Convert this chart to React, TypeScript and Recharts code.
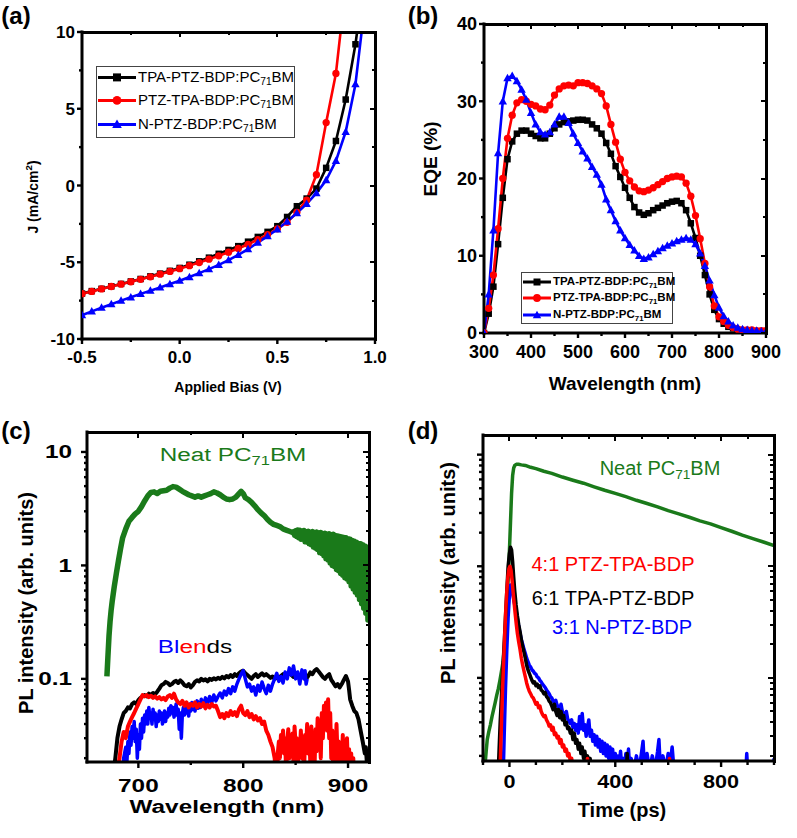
import React from "react";
import { Line, LineChart, XAxis, YAxis } from "recharts";

const FONT = "'Liberation Sans', Arial, Helvetica, sans-serif";
const GREEN = "#1a7a1a";
const RED = "#ff0000";
const BLUE = "#0000ff";
const BLACK = "#000000";

// ---------- (a) J-V curves ----------
const biasV = [
  -0.5, -0.45, -0.4, -0.35, -0.3, -0.25, -0.2, -0.15, -0.1, -0.05, 0, 0.05, 0.1, 0.15, 0.2,
  0.25, 0.3, 0.35, 0.4, 0.45, 0.5, 0.55, 0.6, 0.65, 0.7, 0.75, 0.8, 0.85, 0.9, 0.95,
];
const jTpaPtzBdp = [
  -7.04, -6.88, -6.73, -6.57, -6.41, -6.25, -6.09, -5.92, -5.74, -5.56, -5.37, -5.16, -4.94,
  -4.7, -4.45, -4.2, -3.95, -3.66, -3.35, -3.02, -2.65, -2.05, -1.35, -0.85, -0.2, 1.15, 2.9,
  5.6, 9.2, 14.0,
];
const jPtzTpaBdp = [
  -7.05, -6.9, -6.74, -6.58, -6.43, -6.27, -6.11, -5.95, -5.78, -5.6, -5.42, -5.22, -5.02,
  -4.8, -4.58, -4.35, -4.1, -3.83, -3.53, -3.2, -2.82, -2.4, -1.75, -0.95, 0.7, 4.1, 7.3, 13.0,
];
const jNPtzBdp = [
  -8.45, -8.2, -7.96, -7.73, -7.5, -7.28, -7.06, -6.85, -6.64, -6.42, -6.2, -5.96, -5.71,
  -5.45, -5.17, -4.86, -4.52, -4.14, -3.72, -3.3, -2.85, -2.35, -1.8, -1.2, -0.5, 0.35, 1.6,
  3.5, 6.6, 12.0,
];

// ---------- (b) EQE ----------
const wavelengthsNm = [
  300, 310, 320, 330, 340, 350, 360, 370, 380, 390, 400, 410, 420, 430, 440, 450, 460, 470,
  480, 490, 500, 510, 520, 530, 540, 550, 560, 570, 580, 590, 600, 610, 620, 630, 640, 650,
  660, 670, 680, 690, 700, 710, 720, 730, 740, 750, 760, 770, 780, 790, 800, 810, 820, 830,
  840, 850, 860, 870, 880, 890, 900,
];
const eqeTpaPtzBdp = [
  0, 2.5, 6.0, 11.5, 17.5, 22.5, 24.8, 25.8, 26.2, 26.2, 25.8, 25.5, 25.2, 25.2, 25.8, 26.5,
  27.0, 27.3, 27.4, 27.5, 27.6, 27.6, 27.5, 27.0, 26.5, 25.8, 24.6, 23.2, 21.6, 20.2, 18.8,
  17.5, 16.3, 15.6, 15.3, 15.5, 15.9, 16.2, 16.5, 16.8, 17.0, 17.1, 16.8, 15.9, 14.2, 12.3,
  10.0, 7.5, 5.0, 3.0, 1.8, 1.2, 0.8, 0.6, 0.4, 0.3, 0.3, 0.2, 0.2, 0.2, 0.2,
];
const eqePtzTpaBdp = [
  0, 3.2, 7.5, 13.5, 20.0, 25.2, 28.2, 29.8, 30.2, 30.0, 29.6, 29.4, 29.0, 28.9, 29.5, 30.8,
  31.6, 32.0, 32.1, 32.0, 32.4, 32.4, 32.3, 32.0, 31.6, 31.0, 29.4, 27.0, 24.7, 22.5, 20.8,
  19.7, 18.9, 18.4, 18.3, 18.5, 18.8, 19.2, 19.6, 20.0, 20.2, 20.3, 20.2, 19.4, 17.7, 15.2,
  12.2, 9.0, 6.0, 3.5, 2.1, 1.5, 1.0, 0.7, 0.5, 0.4, 0.4, 0.4, 0.3, 0.3, 0.3,
];
const eqeNPtzBdp = [
  0, 5.0, 13.3, 23.3, 30.0, 33.0, 33.3, 32.6, 31.5, 30.2, 28.5, 27.0, 26.0, 25.7, 26.0, 27.0,
  28.0, 28.0, 27.2, 25.8, 24.6, 23.5, 22.6, 21.5, 20.5, 19.2, 17.3, 15.9, 14.5, 13.3, 12.3,
  11.4, 10.7, 10.0, 9.6, 9.8, 10.2, 10.6, 11.0, 11.3, 11.6, 11.9, 12.1, 12.3, 12.1, 11.5,
  10.3, 8.7, 6.8, 4.9, 3.3, 2.2, 1.5, 1.0, 0.7, 0.5, 0.4, 0.3, 0.3, 0.2, 0.2,
];

// ---------- (c) steady-state PL, [nm, intensity] ----------
const plNeatPcbm: [number, number][] = [
  [670, 0.105], [671, 0.16], [672, 0.24], [673, 0.32], [674, 0.4], [675, 0.48], [677, 0.65],
  [679, 0.85], [681, 1.1], [683, 1.4], [685, 1.75], [688, 2.1], [691, 2.45], [694, 2.65],
  [697, 2.85], [700, 3.0], [703, 3.3], [706, 3.7], [709, 4.1], [712, 4.4], [715, 4.45],
  [718, 4.3], [721, 4.5], [724, 4.55], [727, 4.6], [730, 4.8], [733, 4.95], [736, 4.9],
  [739, 4.7], [742, 4.5], [745, 4.35], [748, 4.2], [751, 4.1], [754, 4.0], [757, 4.1],
  [760, 4.0], [763, 4.1], [766, 4.2], [769, 4.3], [772, 4.45], [775, 4.35], [778, 4.2],
  [781, 4.0], [784, 3.85], [787, 3.8], [790, 3.85], [793, 4.0], [796, 4.3], [798, 4.5],
  [800, 4.3], [802, 3.95], [805, 3.8], [808, 3.6], [811, 3.35], [814, 3.1], [817, 2.9],
  [820, 2.75], [823, 2.55], [826, 2.4], [829, 2.3], [832, 2.25], [835, 2.2], [838, 2.1],
  [841, 2.05], [844, 2.0], [847, 1.95], [848, 1.98], [849, 1.85], [850, 2.02], [851, 1.8],
  [852, 2.05], [853, 1.75], [854, 2.04], [855, 1.7], [856, 2.0], [857, 1.72], [858, 2.03],
  [859, 1.62], [860, 1.98], [861, 1.6], [862, 2.0], [863, 1.55], [864, 1.96], [865, 1.52],
  [866, 1.99], [867, 1.45], [868, 1.95], [869, 1.42], [870, 1.97], [871, 1.38], [872, 1.93],
  [873, 1.3], [874, 1.95], [875, 1.28], [876, 1.9], [877, 1.22], [878, 1.92], [879, 1.15],
  [880, 1.88], [881, 1.12], [882, 1.9], [883, 1.05], [884, 1.86], [885, 1.0], [886, 1.88],
  [887, 0.98], [888, 1.84], [889, 0.92], [890, 1.82], [891, 0.9], [892, 1.8], [893, 0.85],
  [894, 1.78], [895, 0.82], [896, 1.76], [897, 0.78], [898, 1.75], [899, 0.76], [900, 1.72],
  [901, 0.72], [902, 1.7], [903, 0.66], [904, 1.66], [905, 0.62], [906, 1.63], [907, 0.58],
  [908, 1.6], [909, 0.55], [910, 1.56], [911, 0.5], [912, 1.55], [913, 0.46], [914, 1.52],
  [915, 0.42], [916, 1.48], [917, 0.38], [918, 1.45], [919, 0.33], [920, 1.4],
];
const plBlendTpaPtz: [number, number][] = [
  [675, 0.012], [678, 0.02], [680, 0.03], [682, 0.038], [684, 0.044], [686, 0.05], [688, 0.052],
  [690, 0.056], [692, 0.055], [694, 0.06], [696, 0.062], [698, 0.06], [700, 0.065], [702, 0.068],
  [704, 0.07], [706, 0.072], [708, 0.07], [710, 0.074], [712, 0.072], [714, 0.075], [716, 0.073],
  [718, 0.077], [720, 0.082], [722, 0.088], [724, 0.09], [726, 0.094], [728, 0.092], [730, 0.088],
  [732, 0.09], [734, 0.094], [736, 0.096], [738, 0.092], [740, 0.097], [742, 0.093], [744, 0.088],
  [746, 0.086], [748, 0.09], [750, 0.084], [752, 0.088], [754, 0.094], [756, 0.097], [758, 0.095],
  [760, 0.1], [762, 0.097], [764, 0.099], [766, 0.095], [768, 0.1], [770, 0.098], [772, 0.101],
  [774, 0.099], [776, 0.102], [778, 0.1], [780, 0.104], [782, 0.101], [784, 0.106], [786, 0.103],
  [788, 0.108], [790, 0.104], [792, 0.11], [794, 0.106], [796, 0.112], [798, 0.116], [800, 0.118],
  [802, 0.112], [804, 0.108], [806, 0.104], [808, 0.1], [810, 0.106], [812, 0.11], [814, 0.104],
  [816, 0.108], [818, 0.112], [820, 0.107], [822, 0.11], [824, 0.106], [826, 0.102], [828, 0.105],
  [830, 0.1], [832, 0.104], [834, 0.098], [836, 0.106], [838, 0.11], [840, 0.104], [842, 0.108],
  [844, 0.114], [846, 0.108], [848, 0.104], [850, 0.112], [852, 0.106], [854, 0.1], [856, 0.108],
  [858, 0.104], [860, 0.1], [862, 0.106], [864, 0.114], [866, 0.11], [868, 0.118], [870, 0.122],
  [872, 0.116], [874, 0.11], [876, 0.104], [878, 0.1], [880, 0.106], [882, 0.11], [884, 0.098],
  [886, 0.092], [888, 0.086], [890, 0.09], [892, 0.084], [894, 0.09], [896, 0.098], [898, 0.106],
  [900, 0.095], [901, 0.08], [902, 0.066], [904, 0.058], [906, 0.052], [908, 0.05], [910, 0.044],
  [912, 0.035], [914, 0.028], [916, 0.022], [917, 0.025], [918, 0.018], [920, 0.014],
];
const plBlendNPtz: [number, number][] = [
  [684, 0.012], [686, 0.02], [688, 0.025], [689, 0.018], [690, 0.028], [691, 0.022], [692, 0.034],
  [693, 0.026], [694, 0.038], [695, 0.03], [696, 0.042], [697, 0.028], [698, 0.036], [699, 0.02],
  [700, 0.032], [701, 0.024], [702, 0.04], [703, 0.03], [704, 0.045], [705, 0.034], [706, 0.048],
  [707, 0.04], [708, 0.052], [709, 0.04], [710, 0.056], [711, 0.046], [712, 0.05], [713, 0.04],
  [714, 0.054], [715, 0.045], [716, 0.05], [717, 0.038], [718, 0.048], [719, 0.042], [720, 0.052],
  [721, 0.044], [722, 0.05], [723, 0.04], [724, 0.046], [725, 0.052], [726, 0.042], [727, 0.05],
  [728, 0.046], [729, 0.055], [730, 0.048], [731, 0.058], [732, 0.05], [733, 0.056], [734, 0.046],
  [735, 0.052], [736, 0.06], [737, 0.048], [738, 0.054], [739, 0.036], [740, 0.05], [741, 0.03],
  [742, 0.05], [743, 0.056], [744, 0.048], [745, 0.058], [746, 0.05], [747, 0.055], [748, 0.047],
  [749, 0.06], [750, 0.052], [751, 0.062], [752, 0.054], [753, 0.06], [754, 0.052], [755, 0.058],
  [756, 0.064], [757, 0.055], [758, 0.062], [759, 0.056], [760, 0.066], [762, 0.058], [764, 0.068],
  [766, 0.06], [768, 0.07], [770, 0.062], [772, 0.072], [774, 0.064], [776, 0.07], [778, 0.075],
  [780, 0.068], [782, 0.078], [784, 0.072], [786, 0.082], [788, 0.074], [790, 0.085], [792, 0.078],
  [794, 0.09], [796, 0.1], [798, 0.11], [800, 0.118], [802, 0.1], [804, 0.085], [806, 0.09],
  [808, 0.078], [810, 0.085], [812, 0.072], [814, 0.088], [816, 0.078], [818, 0.094], [820, 0.082],
  [822, 0.074], [824, 0.088], [826, 0.078], [828, 0.09], [830, 0.1], [832, 0.112], [834, 0.095],
  [836, 0.105], [838, 0.092], [840, 0.115], [842, 0.1], [844, 0.125], [846, 0.108], [848, 0.13],
  [850, 0.1], [852, 0.115], [854, 0.09], [856, 0.12], [858, 0.1], [859, 0.118], [860, 0.09],
  [861, 0.1],
];
const plBlendPtzTpa: [number, number][] = [
  [678, 0.012], [682, 0.02], [684, 0.028], [686, 0.034], [688, 0.03], [690, 0.038], [692, 0.042],
  [694, 0.046], [696, 0.05], [698, 0.055], [700, 0.06], [702, 0.066], [704, 0.072], [706, 0.07],
  [708, 0.072], [710, 0.069], [712, 0.071], [714, 0.068], [716, 0.07], [718, 0.067], [720, 0.069],
  [722, 0.066], [724, 0.068], [726, 0.065], [728, 0.07], [730, 0.072], [732, 0.068], [734, 0.074],
  [736, 0.066], [738, 0.062], [740, 0.06], [742, 0.064], [744, 0.058], [746, 0.062], [748, 0.056],
  [750, 0.06], [752, 0.058], [754, 0.062], [756, 0.056], [758, 0.06], [760, 0.057], [762, 0.061],
  [764, 0.055], [766, 0.059], [768, 0.056], [770, 0.06], [772, 0.057], [774, 0.058], [776, 0.052],
  [778, 0.046], [780, 0.049], [782, 0.045], [784, 0.05], [786, 0.047], [788, 0.052], [790, 0.048],
  [792, 0.051], [794, 0.047], [796, 0.054], [798, 0.058], [800, 0.05], [802, 0.048], [804, 0.052],
  [806, 0.046], [808, 0.049], [810, 0.044], [812, 0.047], [814, 0.043], [816, 0.045], [818, 0.04],
  [820, 0.042], [822, 0.035], [824, 0.032], [826, 0.028], [828, 0.025], [830, 0.02], [831, 0.015],
  [832, 0.012], [833, 0.022], [834, 0.028], [835, 0.02], [836, 0.032], [837, 0.025], [838, 0.035],
  [839, 0.022], [840, 0.03], [841, 0.014], [842, 0.028], [843, 0.036], [844, 0.02], [845, 0.03],
  [846, 0.024], [847, 0.033], [848, 0.018], [849, 0.038], [850, 0.026], [851, 0.03], [852, 0.015],
  [853, 0.028], [854, 0.022], [855, 0.035], [856, 0.02], [857, 0.029], [858, 0.014], [859, 0.032],
  [860, 0.025], [861, 0.04], [862, 0.022], [863, 0.034], [864, 0.018], [865, 0.038], [866, 0.02],
  [867, 0.03], [868, 0.016], [869, 0.036], [870, 0.023], [871, 0.045], [872, 0.026], [873, 0.035],
  [874, 0.02], [875, 0.05], [876, 0.03], [877, 0.058], [878, 0.04], [879, 0.062], [880, 0.035],
  [881, 0.066], [882, 0.03], [883, 0.05], [884, 0.02], [885, 0.035], [886, 0.014], [887, 0.03],
  [888, 0.018], [889, 0.04], [890, 0.02], [891, 0.028], [892, 0.012], [893, 0.025], [894, 0.018],
  [895, 0.032], [896, 0.014], [897, 0.026], [898, 0.02], [899, 0.03], [900, 0.016], [901, 0.024],
  [902, 0.012], [903, 0.022], [904, 0.015], [905, 0.02], [906, 0.012], [907, 0.018], [908, 0.012],
];

// ---------- (d) time-resolved PL, [ps, intensity] ----------
const trNeatPcbm: [number, number][] = [
  [-100, 0.001], [-92, 0.0017], [-88, 0.0022], [-84, 0.0028], [-78, 0.0033], [-72, 0.0038],
  [-66, 0.0045], [-60, 0.0052], [-54, 0.006], [-48, 0.007], [-42, 0.008], [-36, 0.0095],
  [-30, 0.0115], [-24, 0.014], [-20, 0.018], [-16, 0.025], [-12, 0.037], [-8, 0.055],
  [-4, 0.085], [0, 0.14], [4, 0.25], [8, 0.45], [12, 0.65], [16, 0.76], [20, 0.8], [26, 0.82],
  [34, 0.82], [45, 0.81], [60, 0.8], [80, 0.77], [100, 0.75], [130, 0.71], [160, 0.68],
  [200, 0.63], [240, 0.59], [280, 0.555], [320, 0.515], [360, 0.48], [400, 0.45], [440, 0.42],
  [480, 0.39], [520, 0.365], [560, 0.34], [600, 0.315], [640, 0.295], [680, 0.275],
  [720, 0.255], [760, 0.24], [800, 0.222], [840, 0.206], [880, 0.19], [920, 0.177],
  [960, 0.165], [1000, 0.153],
];
const trNPtz: [number, number][] = [
  [-100, 0.001], [-25, 0.001], [-20, 0.003], [-15, 0.008], [-10, 0.018], [-5, 0.035], [0, 0.055],
  [4, 0.068], [8, 0.066], [12, 0.058], [16, 0.05], [20, 0.045], [25, 0.04], [30, 0.034],
  [35, 0.029], [40, 0.025], [45, 0.022], [50, 0.02], [55, 0.018], [60, 0.0165], [65, 0.015],
  [70, 0.014], [75, 0.013], [80, 0.0125], [85, 0.0118], [90, 0.0115], [95, 0.011], [100, 0.0108],
  [105, 0.0102], [110, 0.01], [115, 0.0095], [120, 0.0092], [125, 0.0088], [130, 0.0085],
  [135, 0.0082], [140, 0.0078], [145, 0.0075], [150, 0.0072], [155, 0.0068], [160, 0.0066],
  [165, 0.0062], [170, 0.006], [175, 0.0063], [180, 0.0057], [185, 0.0055], [190, 0.0052],
  [195, 0.0058], [200, 0.005], [205, 0.0048], [210, 0.0045], [215, 0.005], [220, 0.0043],
  [225, 0.0041], [230, 0.0039], [235, 0.0042], [240, 0.0036], [245, 0.0039], [250, 0.0034],
  [255, 0.0038], [260, 0.0032], [265, 0.0045], [270, 0.0035], [275, 0.0048], [280, 0.0034],
  [285, 0.0038], [290, 0.003], [295, 0.0036], [300, 0.0042], [305, 0.003], [310, 0.0034],
  [315, 0.0027], [320, 0.0031], [325, 0.0025], [330, 0.003], [335, 0.0024], [340, 0.0028],
  [345, 0.0022], [350, 0.0027], [355, 0.0021], [360, 0.0026], [365, 0.002], [370, 0.0025],
  [375, 0.0019], [380, 0.0024], [385, 0.0018], [390, 0.0023], [395, 0.0017], [400, 0.0021],
  [405, 0.0016], [410, 0.002], [415, 0.0016], [420, 0.0022], [425, 0.0015], [430, 0.0019],
  [435, 0.0015], [440, 0.0021], [445, 0.0016], [450, 0.0023], [455, 0.0015], [460, 0.0019],
  [470, 0.0015], [480, 0.002], [490, 0.0015], [500, 0.0022], [505, 0.0027], [510, 0.0016],
  [520, 0.0021], [530, 0.0015], [540, 0.002], [550, 0.0015], [560, 0.0022], [565, 0.0028],
  [570, 0.0016], [580, 0.002], [590, 0.0015], [600, 0.0021], [605, 0.0015], [615, 0.0024],
  [622, 0.0015], [630, 0.001], [890, 0.001], [897, 0.0021], [904, 0.001], [995, 0.001],
  [1000, 0.0019],
];
const trTpaPtz: [number, number][] = [
  [-100, 0.001], [-45, 0.001], [-40, 0.002], [-35, 0.004], [-30, 0.007], [-25, 0.012], [-20, 0.02],
  [-15, 0.035], [-10, 0.06], [-5, 0.1], [0, 0.13], [4, 0.148], [8, 0.14], [12, 0.11], [16, 0.08],
  [20, 0.06], [25, 0.045], [30, 0.036], [35, 0.03], [40, 0.026], [45, 0.022], [50, 0.019],
  [55, 0.017], [60, 0.015], [65, 0.013], [70, 0.0118], [75, 0.011], [80, 0.0102], [85, 0.0095],
  [90, 0.009], [95, 0.0092], [100, 0.0085], [105, 0.0088], [110, 0.0082], [115, 0.0085],
  [120, 0.0078], [125, 0.0076], [130, 0.0072], [135, 0.0074], [140, 0.0068], [145, 0.0066],
  [150, 0.0062], [155, 0.006], [160, 0.0056], [165, 0.0052], [170, 0.0058], [175, 0.005],
  [180, 0.0046], [185, 0.0052], [190, 0.0044], [195, 0.005], [200, 0.0042], [205, 0.0046],
  [210, 0.0038], [215, 0.004], [220, 0.0035], [225, 0.0036], [230, 0.0032], [235, 0.0034],
  [240, 0.0028], [245, 0.0032], [250, 0.0026], [255, 0.0028], [260, 0.0023], [265, 0.0026],
  [270, 0.0021], [275, 0.0024], [280, 0.0019], [285, 0.0022], [290, 0.0018], [295, 0.002],
  [300, 0.0016], [305, 0.0019], [310, 0.0014], [320, 0.0012], [330, 0.001], [440, 0.001],
  [445, 0.0021], [450, 0.001], [1000, 0.001],
];
const trPtzTpa: [number, number][] = [
  [-100, 0.001], [-38, 0.001], [-34, 0.002], [-30, 0.004], [-26, 0.008], [-22, 0.014],
  [-18, 0.024], [-14, 0.04], [-10, 0.06], [-6, 0.08], [-2, 0.095], [2, 0.1], [6, 0.092],
  [10, 0.075], [14, 0.058], [18, 0.046], [22, 0.037], [26, 0.03], [30, 0.025], [35, 0.021],
  [40, 0.018], [45, 0.015], [50, 0.013], [55, 0.0115], [60, 0.0102], [65, 0.009], [70, 0.0082],
  [75, 0.0076], [80, 0.0072], [85, 0.0068], [90, 0.0066], [95, 0.0062], [100, 0.0058],
  [105, 0.006], [110, 0.0054], [115, 0.0056], [120, 0.005], [125, 0.0047], [130, 0.0045],
  [135, 0.0046], [140, 0.0042], [145, 0.004], [150, 0.0037], [155, 0.0038], [160, 0.0034],
  [165, 0.0036], [170, 0.0031], [175, 0.0032], [180, 0.0029], [185, 0.003], [190, 0.0026],
  [195, 0.0028], [200, 0.0024], [205, 0.0025], [210, 0.0022], [215, 0.0023], [220, 0.002],
  [225, 0.0021], [230, 0.0018], [235, 0.0019], [240, 0.0016], [250, 0.0014], [260, 0.0012],
  [270, 0.001], [290, 0.001], [295, 0.0019], [300, 0.001], [600, 0.001], [605, 0.0019],
  [610, 0.001], [1000, 0.001],
];

// ---------- axis ticks ----------
const jvTicksX = [-0.5, -0.25, 0, 0.25, 0.5, 0.75, 1.0];
const jvMajorX = [-0.5, 0, 0.5, 1.0];
const jvTicksY = [-10, -7.5, -5, -2.5, 0, 2.5, 5, 7.5, 10];
const jvMajorY = [-10, -5, 0, 5, 10];
const eqeTicksX = [300, 350, 400, 450, 500, 550, 600, 650, 700, 750, 800, 850, 900];
const eqeMajorX = [300, 400, 500, 600, 700, 800, 900];
const eqeTicksY = [0, 5, 10, 15, 20, 25, 30, 35, 40];
const eqeMajorY = [0, 10, 20, 30, 40];
const plTicksX = [700, 750, 800, 850, 900];
const plMajorX = [700, 800, 900];
const plTicksY = [
  0.02, 0.03, 0.04, 0.05, 0.06, 0.07, 0.08, 0.09, 0.1, 0.2, 0.3, 0.4, 0.5, 0.6, 0.7, 0.8, 0.9,
  1, 2, 3, 4, 5, 6, 7, 8, 9, 10,
];
const plMajorY = [0.1, 1, 10];
const trTicksX = [-100, 0, 100, 200, 300, 400, 500, 600, 700, 800, 900, 1000];
const trMajorX = [0, 400, 800];
const trTicksY = [
  0.002, 0.003, 0.004, 0.005, 0.006, 0.007, 0.008, 0.009, 0.01, 0.02, 0.03, 0.04, 0.05, 0.06,
  0.07, 0.08, 0.09, 0.1, 0.2, 0.3, 0.4, 0.5, 0.6, 0.7, 0.8, 0.9, 1,
];
const trMajorY = [0.01, 0.1, 1];

const pts = (a: [number, number][]) => a.map(([x, y]) => ({ x, y }));
const series = (xs: number[], ys: number[]) => ys.map((y, i) => ({ x: xs[i], y }));

// ---------- helpers ----------
type FrameCfg = {
  left: number;
  top: number;
  plotW: number;
  plotH: number;
  xDomain: [number, number];
  xTicks: number[];
  xMajor: number[];
  yDomain: [number, number];
  yTicks: number[];
  yMajor: number[];
  yLog?: boolean;
  frameW: number;
  majorLen: number;
  minorLen: number;
  fontSize: number;
  xGap: number;
  yGap: number;
  stretch?: number;
  xFmt?: (v: number) => string;
  yFmt?: (v: number) => string;
};

const near = (v: number, list: number[]) =>
  list.some((m) => Math.abs(m - v) <= 1e-6 * Math.max(1, Math.abs(m)));

function frameTick(c: FrameCfg, axis: "x" | "y") {
  return (props: any) => {
    const { x, y, payload } = props;
    const v = payload.value as number;
    const major = near(v, axis === "x" ? c.xMajor : c.yMajor);
    const len = major ? c.majorLen : c.minorLen;
    const fmt = axis === "x" ? c.xFmt : c.yFmt;
    const k = c.stretch ?? 1;
    const sw = c.frameW * 0.8;
    if (axis === "x") {
      return (
        <g>
          <line x1={x} y1={y} x2={x} y2={y + len} stroke="#000" strokeWidth={sw} />
          {major && fmt ? (
            <text transform={`translate(${x},${y + c.xGap}) scale(${k},1)`} textAnchor="middle"
              fontFamily={FONT} fontWeight="bold" fontSize={c.fontSize} fill="#000">
              {fmt(v)}
            </text>
          ) : null}
        </g>
      );
    }
    return (
      <g>
        <line x1={x} y1={y} x2={x - len} y2={y} stroke="#000" strokeWidth={sw} />
        {major && fmt ? (
          <text transform={`translate(${x - c.yGap},${y}) scale(${k},1)`} textAnchor="end" dy="0.36em"
            fontFamily={FONT} fontWeight="bold" fontSize={c.fontSize} fill="#000">
            {fmt(v)}
          </text>
        ) : null}
      </g>
    );
  };
}

function frameAxes(c: FrameCfg) {
  const axisLine = { stroke: "#000", strokeWidth: c.frameW, strokeLinecap: "square" as const };
  const common = {
    tickLine: false,
    tickSize: 0,
    tickMargin: 0,
    interval: 0 as const,
    allowDataOverflow: true,
    axisLine,
  };
  return [
    <XAxis key="xb" xAxisId="b" orientation="bottom" type="number" dataKey="x" scale="linear"
      domain={c.xDomain} ticks={c.xTicks} height={40} tick={frameTick(c, "x")} {...common} />,
    <YAxis key="yl" yAxisId="l" orientation="left" type="number" scale={c.yLog ? "log" : "linear"}
      domain={c.yDomain} ticks={c.yTicks} width={60} tick={frameTick(c, "y")} {...common} />,
  ];
}

// top + right sides of a box as solid bars, with inward mirror ticks
function MirrorBox({ c }: { c: FrameCfg }) {
  const [x0, x1] = c.xDomain;
  const [y0, y1] = c.yDomain;
  const fx = (v: number) => c.left + ((v - x0) / (x1 - x0)) * c.plotW;
  const fy = (v: number) =>
    c.yLog
      ? c.top + c.plotH - ((Math.log10(v) - Math.log10(y0)) / (Math.log10(y1) - Math.log10(y0))) * c.plotH
      : c.top + c.plotH - ((v - y0) / (y1 - y0)) * c.plotH;
  const fw = c.frameW;
  const half = fw / 2;
  const sw = Math.max(2, Math.round(fw * 0.8));
  const right = c.left + c.plotW;
  const bar = (left: number, top: number, width: number, height: number, key: string) => (
    <div key={key} style={{ position: "absolute", left, top, width, height, background: "#000", pointerEvents: "none" }} />
  );
  return (
    <>
      {bar(c.left - half, c.top - half, c.plotW + fw, fw, "top")}
      {bar(right - half, c.top - half, fw, c.plotH + fw, "right")}
      {c.xTicks.map((v) =>
        bar(fx(v) - sw / 2, c.top, sw, near(v, c.xMajor) ? c.majorLen : c.minorLen, `x${v}`))}
      {c.yTicks.map((v) => {
        const len = near(v, c.yMajor) ? c.majorLen : c.minorLen;
        return bar(right - len, fy(v) - sw / 2, len, sw, `y${v}`);
      })}
    </>
  );
}

type Shape = "square" | "circle" | "triangle";

function MarkerGlyph({ shape, cx, cy, s, color }: { shape: Shape; cx: number; cy: number; s: number; color: string }) {
  if (shape === "square") return <rect x={cx - s / 2} y={cy - s / 2} width={s} height={s} fill={color} />;
  if (shape === "circle") return <circle cx={cx} cy={cy} r={s / 2 + 0.4} fill={color} />;
  return (
    <polygon
      points={`${cx},${cy - s * 0.62} ${cx - s * 0.6},${cy + s * 0.45} ${cx + s * 0.6},${cy + s * 0.45}`}
      fill={color}
    />
  );
}

function marker(shape: Shape, color: string, s: number) {
  return (p: any) => {
    const { cx, cy, index } = p;
    if (cx == null || cy == null) return <g key={index} />;
    return (
      <g key={index}>
        <MarkerGlyph shape={shape} cx={cx} cy={cy} s={s} color={color} />
      </g>
    );
  };
}

function Txt({
  x, y, size, bold, color = "#000", rotate, stretch, children,
}: {
  x: number; y: number; size: number; bold?: boolean; color?: string;
  rotate?: boolean; stretch?: number; children: React.ReactNode;
}) {
  const tf = `translate(-50%,-50%)${rotate ? " rotate(-90deg)" : ""}${stretch ? ` scaleX(${stretch})` : ""}`;
  return (
    <div
      style={{
        position: "absolute", left: x, top: y, transform: tf, fontSize: size,
        fontWeight: bold ? "bold" : "normal", color, whiteSpace: "nowrap", lineHeight: 1,
        fontFamily: FONT,
      }}
    >
      {children}
    </div>
  );
}

const Sub = ({ children }: { children: React.ReactNode }) => (
  <span style={{ fontSize: "0.68em", position: "relative", top: "0.32em" }}>{children}</span>
);

type LegendItem = { label: React.ReactNode; color: string; shape: Shape };

function LegendBox({
  left, top, width, height, rows, items, lineW, fontSize, bold, s,
}: {
  left: number; top: number; width: number; height: number; rows: number[];
  items: LegendItem[]; lineW: number; fontSize: number; bold?: boolean; s: number;
}) {
  return (
    <div style={{ position: "absolute", left, top, width, height, border: "1px solid #444", background: "#fff", boxSizing: "border-box" }}>
      {items.map((it, i) => (
        <div key={i} style={{ position: "absolute", left: 0, top: rows[i], transform: "translateY(-50%)", display: "flex", alignItems: "center" }}>
          <svg width={lineW + 2} height={14} style={{ display: "block" }}>
            <line x1={1} y1={7} x2={lineW + 1} y2={7} stroke={it.color} strokeWidth={3} />
            <MarkerGlyph shape={it.shape} cx={lineW / 2 + 1} cy={7} s={s} color={it.color} />
          </svg>
          <span style={{ fontFamily: FONT, fontSize, fontWeight: bold ? "bold" : "normal", whiteSpace: "nowrap", lineHeight: 1, marginLeft: 1 }}>
            {it.label}
          </span>
        </div>
      ))}
    </div>
  );
}

const nameTpaPtz = <>TPA-PTZ-BDP:PC<Sub>71</Sub>BM</>;
const namePtzTpa = <>PTZ-TPA-BDP:PC<Sub>71</Sub>BM</>;
const nameNPtz = <>N-PTZ-BDP:PC<Sub>71</Sub>BM</>;

// ---------- panels ----------
const cfgA: FrameCfg = {
  left: 82, top: 32, plotW: 293, plotH: 307,
  xDomain: [-0.5, 1.0], xTicks: jvTicksX, xMajor: jvMajorX,
  yDomain: [-10, 10], yTicks: jvTicksY, yMajor: jvMajorY,
  frameW: 3, majorLen: 5, minorLen: 3, fontSize: 17, xGap: 24, yGap: 7,
  xFmt: (v) => v.toFixed(1), yFmt: (v) => String(v),
};
const cfgB: FrameCfg = {
  left: 484, top: 24, plotW: 282, plotH: 309,
  xDomain: [300, 900], xTicks: eqeTicksX, xMajor: eqeMajorX,
  yDomain: [0, 40], yTicks: eqeTicksY, yMajor: eqeMajorY,
  frameW: 3, majorLen: 5, minorLen: 3, fontSize: 18, xGap: 25, yGap: 7,
  xFmt: (v) => String(v), yFmt: (v) => String(v),
};
const cfgC: FrameCfg = {
  left: 87, top: 432, plotW: 282, plotH: 330,
  xDomain: [651, 920], xTicks: plTicksX, xMajor: plMajorX,
  yDomain: [0.0185, 15], yTicks: plTicksY, yMajor: plMajorY, yLog: true,
  frameW: 3, majorLen: 6, minorLen: 3, fontSize: 18, xGap: 30, yGap: 15, stretch: 1.35,
  xFmt: (v) => String(v), yFmt: (v) => String(v),
};
const cfgD: FrameCfg = {
  left: 483, top: 435, plotW: 291, plotH: 326,
  xDomain: [-100, 1000], xTicks: trTicksX, xMajor: trMajorX,
  yDomain: [0.0018, 1.5], yTicks: trTicksY, yMajor: trMajorY, yLog: true,
  frameW: 3, majorLen: 6, minorLen: 4, fontSize: 18, xGap: 27, yGap: 8, stretch: 1.2,
  xFmt: (v) => String(v),
};

const lineCommon = {
  xAxisId: "b",
  yAxisId: "l",
  dataKey: "y",
  type: "linear" as const,
  isAnimationActive: false,
  activeDot: false,
  strokeLinejoin: "round" as const,
};

export default function App() {
  return (
    <div style={{ position: "relative", width: 797, height: 838, background: "#fff", overflow: "hidden", fontFamily: FONT }}>
      <style>{`body{margin:0}`}</style>

      {/* (a) */}
      <div style={{ position: "absolute", left: 0, top: 0 }}>
        <LineChart width={400} height={420} margin={{ top: 32, right: 25, bottom: 41, left: 22 }}>
          {frameAxes(cfgA)}
          <Line {...lineCommon} data={series(biasV, jTpaPtzBdp)} stroke={BLACK} strokeWidth={2.6} dot={marker("square", BLACK, 6.5)} />
          <Line {...lineCommon} data={series(biasV, jPtzTpaBdp)} stroke={RED} strokeWidth={2.6} dot={marker("circle", RED, 6.5)} />
          <Line {...lineCommon} data={series(biasV, jNPtzBdp)} stroke={BLUE} strokeWidth={2.6} dot={marker("triangle", BLUE, 7)} />
        </LineChart>
      </div>

      {/* (b) */}
      <div style={{ position: "absolute", left: 400, top: 0 }}>
        <LineChart width={397} height={420} margin={{ top: 24, right: 31, bottom: 47, left: 24 }}>
          {frameAxes(cfgB)}
          <Line {...lineCommon} data={series(wavelengthsNm, eqeTpaPtzBdp)} stroke={BLACK} strokeWidth={2.6} dot={marker("square", BLACK, 6.5)} />
          <Line {...lineCommon} data={series(wavelengthsNm, eqePtzTpaBdp)} stroke={RED} strokeWidth={2.6} dot={marker("circle", RED, 6.5)} />
          <Line {...lineCommon} data={series(wavelengthsNm, eqeNPtzBdp)} stroke={BLUE} strokeWidth={2.6} dot={marker("triangle", BLUE, 7)} />
        </LineChart>
      </div>

      {/* (c) */}
      <div style={{ position: "absolute", left: 0, top: 420 }}>
        <LineChart width={400} height={418} margin={{ top: 12, right: 31, bottom: 36, left: 27 }}>
          {frameAxes(cfgC)}
          <Line {...lineCommon} data={pts(plNeatPcbm)} stroke={GREEN} strokeWidth={5.5} dot={false} />
          <Line {...lineCommon} data={pts(plBlendTpaPtz)} stroke={BLACK} strokeWidth={4} dot={false} />
          <Line {...lineCommon} data={pts(plBlendNPtz)} stroke={BLUE} strokeWidth={3.5} dot={false} />
          <Line {...lineCommon} data={pts(plBlendPtzTpa)} stroke={RED} strokeWidth={4} dot={false} />
        </LineChart>
      </div>

      {/* (d) */}
      <div style={{ position: "absolute", left: 400, top: 420 }}>
        <LineChart width={397} height={418} margin={{ top: 15, right: 23, bottom: 37, left: 23 }}>
          {frameAxes(cfgD)}
          <Line {...lineCommon} data={pts(trNeatPcbm)} stroke={GREEN} strokeWidth={3.5} dot={false} />
          <Line {...lineCommon} data={pts(trNPtz)} stroke={BLUE} strokeWidth={3.5} dot={false} />
          <Line {...lineCommon} data={pts(trTpaPtz)} stroke={BLACK} strokeWidth={3.5} dot={false} />
          <Line {...lineCommon} data={pts(trPtzTpa)} stroke={RED} strokeWidth={3.5} dot={false} />
        </LineChart>
      </div>

      <LegendBox left={96} top={66} width={199} height={72} rows={[10, 33, 57]} lineW={38} s={8} fontSize={15}
        items={[
          { label: nameTpaPtz, color: BLACK, shape: "square" },
          { label: namePtzTpa, color: RED, shape: "circle" },
          { label: nameNPtz, color: BLUE, shape: "triangle" },
        ]} />
      <Txt x={16} y={16} size={24} bold>(a)</Txt>
      <Txt x={228} y={387} size={14} bold>Applied Bias (V)</Txt>
      <Txt x={32} y={197} size={14} bold rotate>J (mA/cm<sup style={{ fontSize: "0.7em" }}>2</sup>)</Txt>

      <LegendBox left={521} top={272} width={152} height={52} rows={[9, 25, 42]} lineW={28} s={7} fontSize={11.5} bold
        items={[
          { label: nameTpaPtz, color: BLACK, shape: "square" },
          { label: namePtzTpa, color: RED, shape: "circle" },
          { label: nameNPtz, color: BLUE, shape: "triangle" },
        ]} />
      <Txt x={423} y={16} size={24} bold>(b)</Txt>
      <Txt x={625} y={383} size={19} bold>Wavelength (nm)</Txt>
      <Txt x={430} y={159} size={19} bold rotate>EQE (%)</Txt>

      <Txt x={16} y={431} size={24} bold>(c)</Txt>
      <Txt x={233} y={455} size={18} stretch={1.35} color={GREEN}>Neat PC<Sub>71</Sub>BM</Txt>
      <Txt x={195} y={647} size={18} stretch={1.35}>
        <span style={{ color: BLUE }}>Bl</span>
        <span style={{ color: RED }}>en</span>
        <span style={{ color: BLACK }}>ds</span>
      </Txt>
      <Txt x={227} y={807} size={18} bold stretch={1.35}>Wavelength (nm)</Txt>
      <Txt x={26} y={603} size={20} bold rotate>PL intensity (arb. units)</Txt>

      <Txt x={423} y={431} size={24} bold>(d)</Txt>
      <Txt x={660} y={468} size={20} color={GREEN}>Neat PC<Sub>71</Sub>BM</Txt>
      <Txt x={613} y={564} size={20} color={RED}>4:1 PTZ-TPA-BDP</Txt>
      <Txt x={613} y={598} size={20} color={BLACK}>6:1 TPA-PTZ-BDP</Txt>
      <Txt x={622} y={627} size={20} color={BLUE}>3:1 N-PTZ-BDP</Txt>
      <Txt x={622} y={810} size={20} bold>Time (ps)</Txt>
      <Txt x={448} y={573} size={20} bold rotate>PL intensity (arb. units)</Txt>

      {/* closing top/right sides of the four boxes, painted last */}
      <MirrorBox c={cfgA} />
      <MirrorBox c={cfgB} />
      <MirrorBox c={cfgC} />
      <MirrorBox c={cfgD} />
    </div>
  );
}
